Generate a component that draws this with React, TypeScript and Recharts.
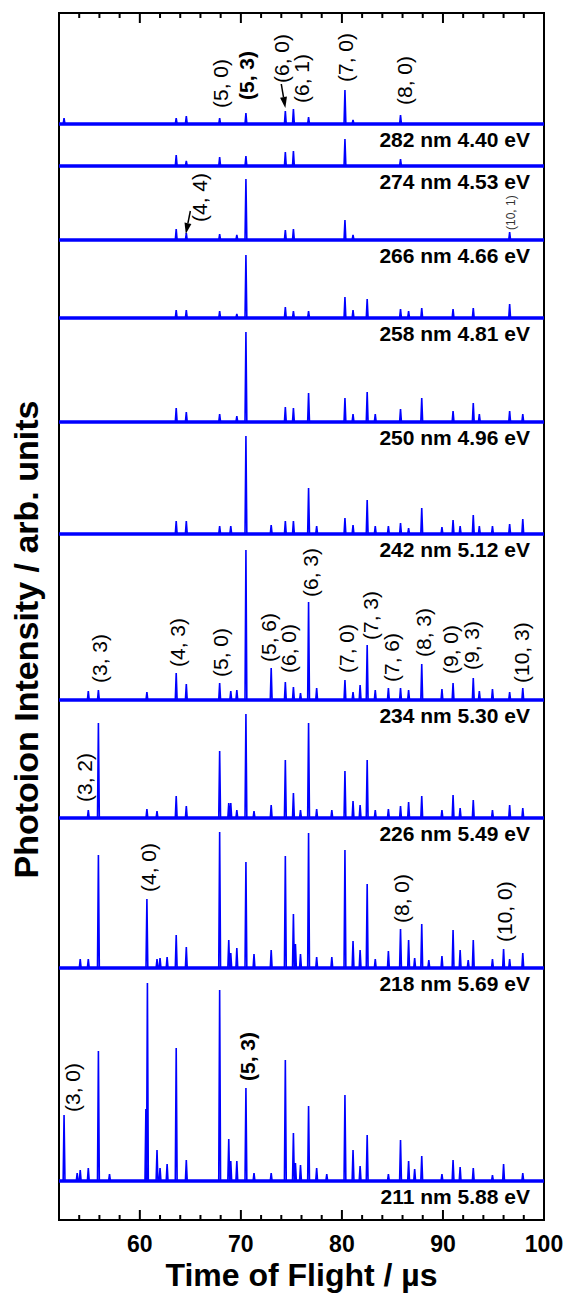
import React from 'react';
import { LineChart, Line, XAxis, YAxis, ReferenceLine, ReferenceDot, ReferenceArea } from 'recharts';

const FONT = "'Liberation Sans', Arial, Helvetica, sans-serif";
const BLUE = '#0000ff';

// panel captions, top to bottom
const wavelengths = ['282', '274', '266', '258', '250', '242', '234', '226', '218', '211'];
const energies = ['4.40', '4.53', '4.66', '4.81', '4.96', '5.12', '5.30', '5.49', '5.69', '5.88'];
// vertical offset of each trace (arb. units)
const offsets = [1096, 1054, 980, 902, 798, 686, 520, 402, 252, 39];

// [time of flight (us), peak intensity]
const spec282: [number, number][] = [
  [52.5, 6], [63.6, 6], [64.6, 8], [67.9, 6], [70.5, 11], [74.4, 13], [75.2, 15], [76.7, 7],
  [80.3, 34], [81.1, 4], [85.8, 9],
];
const spec274: [number, number][] = [
  [63.6, 11], [64.6, 5], [67.9, 9], [70.5, 10], [74.4, 14], [75.2, 15], [80.3, 27], [85.8, 7],
];
const spec266: [number, number][] = [
  [63.6, 11], [64.6, 7], [67.9, 6], [69.6, 5], [70.5, 61], [74.4, 10], [75.2, 11], [80.3, 20],
  [81.1, 5], [96.6, 8],
];
const spec258: [number, number][] = [
  [63.6, 8], [64.6, 8], [67.9, 7], [69.6, 4], [70.5, 63], [74.4, 11], [75.2, 7], [76.7, 7],
  [80.3, 21], [81.1, 8], [82.5, 19], [85.8, 9], [86.6, 7], [87.9, 10], [91.0, 9], [93.0, 10],
  [96.6, 14],
];
const spec250: [number, number][] = [
  [63.6, 14], [64.6, 10], [67.9, 8], [69.6, 6], [70.5, 90], [74.4, 15], [75.2, 14], [76.7, 29],
  [80.3, 24], [81.1, 8], [82.5, 30], [83.3, 8], [85.8, 13], [87.9, 24], [91.0, 11], [93.0, 19],
  [93.6, 8], [96.6, 11], [97.9, 8],
];
const spec242: [number, number][] = [
  [63.6, 13], [64.6, 13], [67.9, 8], [69.0, 8], [70.5, 98], [73.0, 9], [74.4, 13], [75.2, 13],
  [76.7, 46], [77.5, 8], [80.3, 16], [81.1, 9], [82.5, 34], [83.3, 8], [84.6, 8], [85.8, 11],
  [86.6, 6], [87.9, 26], [89.9, 7], [91.0, 14], [91.7, 8], [93.0, 19], [93.6, 8], [94.9, 8],
  [96.6, 10], [97.9, 15],
];
const spec234: [number, number][] = [
  [54.9, 9], [55.9, 10], [60.7, 8], [63.6, 27], [64.6, 16], [67.9, 17], [69.0, 9], [69.6, 10],
  [70.5, 150], [73.0, 32], [74.4, 18], [75.2, 13], [75.9, 7], [76.7, 98], [77.5, 12], [80.3, 20],
  [81.1, 8], [81.8, 15], [82.5, 55], [83.3, 10], [84.6, 12], [85.8, 12], [86.6, 10], [87.9, 36],
  [89.9, 11], [91.0, 17], [93.0, 22], [93.6, 9], [94.9, 11], [96.6, 8], [97.9, 12],
];
const spec226: [number, number][] = [
  [54.9, 8], [55.9, 95], [60.7, 9], [61.7, 7], [63.6, 22], [64.6, 12], [67.9, 67], [68.8, 15],
  [69.0, 15], [69.6, 8], [70.5, 104], [71.3, 7], [73.0, 13], [74.4, 58], [75.2, 25], [75.9, 8],
  [76.7, 95], [77.5, 9], [79.0, 8], [80.3, 47], [81.1, 17], [81.8, 13], [82.5, 58], [83.3, 8],
  [84.6, 9], [85.8, 12], [86.6, 16], [87.9, 22], [89.9, 8], [91.0, 23], [91.7, 10], [93.0, 18],
  [94.9, 8], [96.6, 13], [97.9, 10],
];
const spec218: [number, number][] = [
  [54.1, 9], [54.9, 9], [55.9, 113], [60.7, 69], [61.7, 9], [62.0, 10], [62.7, 11], [63.6, 33],
  [64.6, 21], [67.9, 136], [68.8, 28], [69.0, 15], [69.6, 20], [70.5, 106], [71.3, 14], [73.0, 18],
  [74.4, 112], [75.2, 54], [75.4, 24], [75.9, 14], [76.7, 135], [77.5, 11], [79.0, 11], [80.3, 118],
  [81.1, 27], [81.8, 18], [82.5, 84], [83.3, 9], [84.6, 17], [85.8, 39], [86.6, 28], [87.2, 10],
  [87.9, 44], [88.6, 8], [89.9, 12], [91.0, 38], [91.7, 18], [92.5, 8], [93.0, 28], [94.9, 9],
  [96.0, 19], [96.6, 9], [97.9, 15],
];
const spec211: [number, number][] = [
  [52.5, 66], [53.8, 8], [54.1, 11], [54.9, 13], [55.9, 130], [57.0, 7], [60.6, 72], [60.75, 198],
  [61.7, 31], [62.0, 13], [62.7, 17], [63.6, 133], [64.6, 21], [67.9, 191], [68.8, 42], [69.0, 20],
  [69.6, 20], [70.5, 93], [71.3, 8], [73.0, 8], [74.4, 121], [75.2, 48], [75.4, 18], [75.9, 16],
  [76.7, 75], [77.5, 13], [78.5, 7], [80.3, 86], [81.1, 31], [81.8, 15], [82.5, 46], [84.6, 7],
  [85.8, 41], [86.6, 20], [87.2, 12], [87.9, 25], [89.9, 7], [91.0, 21], [91.7, 14], [93.0, 13],
  [94.9, 6], [96.0, 17], [97.9, 8],
];
const spectra = [spec282, spec274, spec266, spec258, spec250, spec242, spec234, spec226, spec218, spec211];

// band assignments: text, time, height of label foot
const bandLabels: { text: string; t: number; v: number; bold?: boolean; small?: boolean }[] = [
  { text: '(5, 0)', t: 68.0, v: 1112 },
  { text: '(5, 3)', t: 70.6, v: 1120, bold: true },
  { text: '(6, 0)', t: 74.0, v: 1137 },
  { text: '(6, 1)', t: 76.0, v: 1117 },
  { text: '(7, 0)', t: 80.4, v: 1138 },
  { text: '(8, 0)', t: 86.2, v: 1115 },
  { text: '(4, 4)', t: 65.9, v: 998 },
  { text: '(10, 1)', t: 96.7, v: 990, small: true },
  { text: '(3, 3)', t: 56.0, v: 537 },
  { text: '(4, 3)', t: 63.7, v: 553 },
  { text: '(5, 0)', t: 68.0, v: 543 },
  { text: '(5, 6)', t: 72.7, v: 558 },
  { text: '(6, 0)', t: 74.7, v: 547 },
  { text: '(6, 3)', t: 76.9, v: 623 },
  { text: '(7, 0)', t: 80.5, v: 547 },
  { text: '(7, 3)', t: 82.8, v: 580 },
  { text: '(7, 6)', t: 84.9, v: 538 },
  { text: '(8, 3)', t: 88.1, v: 563 },
  { text: '(9, 0)', t: 90.8, v: 546 },
  { text: '(9, 3)', t: 92.8, v: 550 },
  { text: '(10, 3)', t: 97.8, v: 537 },
  { text: '(3, 2)', t: 54.5, v: 418 },
  { text: '(4, 0)', t: 60.9, v: 328 },
  { text: '(8, 0)', t: 85.9, v: 297 },
  { text: '(10, 0)', t: 96.1, v: 278 },
  { text: '(3, 0)', t: 53.4, v: 108 },
  { text: '(5, 3)', t: 70.7, v: 139, bold: true },
];

// arrows: from label to peak
const arrows: [number, number, number, number][] = [
  [74.0, 1136, 74.4, 1112],
  [65.0, 1009, 64.55, 986],
];

const majorTicks = [60, 70, 80, 90, 100];
const minorTicks = [54, 56, 58, 62, 64, 66, 68, 72, 74, 76, 78, 82, 84, 86, 88, 92, 94, 96, 98];

const HALF = 0.09;
function buildSeries(peaks: [number, number][], base: number) {
  const pts = [{ t: 52, v: base }];
  peaks.forEach(([t, h]) => {
    pts.push({ t: t - HALF, v: base }, { t, v: base + h }, { t: t + HALF, v: base });
  });
  pts.push({ t: 100, v: base });
  return pts;
}

const XTick = (props: any) => {
  const { x, y, payload } = props;
  return (
    <text x={x} y={y + 32} textAnchor="middle" fontFamily={FONT} fontWeight="bold" fontSize={23} fill="#000">
      {payload.value}
    </text>
  );
};

const Arrow = (props: any) => {
  const { x1, y1, x2, y2 } = props;
  const ang = Math.atan2(y2 - y1, x2 - x1);
  const len = 11;
  const w = 3.5;
  const bx = x2 - len * Math.cos(ang);
  const by = y2 - len * Math.sin(ang);
  const nx = -Math.sin(ang) * w;
  const ny = Math.cos(ang) * w;
  return (
    <g>
      <line x1={x1} y1={y1} x2={bx} y2={by} stroke="#000" strokeWidth={1.5} />
      <polygon points={`${x2},${y2} ${bx + nx},${by + ny} ${bx - nx},${by - ny}`} fill="#000" />
    </g>
  );
};

export default function App() {
  return (
    <div style={{ position: 'absolute', left: 0, top: 0, width: 566, height: 1293, background: '#fff' }}>
      <LineChart width={566} height={1293} margin={{ top: 13, right: 22, bottom: 0, left: 0 }}>
        <XAxis
          dataKey="t"
          type="number"
          domain={[52, 100]}
          allowDataOverflow
          ticks={majorTicks}
          interval={0}
          height={73}
          tickSize={0}
          tickMargin={0}
          tickLine={false}
          axisLine={{ stroke: '#000', strokeWidth: 2 }}
          tick={<XTick />}
          label={(p: any) => (
            <text
              x={p.viewBox.x + p.viewBox.width / 2}
              y={p.viewBox.y + 66}
              textAnchor="middle"
              fontFamily={FONT}
              fontWeight="bold"
              fontSize={32}
              fill="#000"
            >
              Time of Flight / µs
            </text>
          )}
        />
        <YAxis
          type="number"
          domain={[0, 1207]}
          allowDataOverflow
          width={59}
          tick={false}
          tickLine={false}
          axisLine={false}
          label={(p: any) => {
            const cx = 38;
            const cy = p.viewBox.y + p.viewBox.height / 2 + 23;
            return (
              <text
                x={cx}
                y={cy}
                transform={`rotate(-90 ${cx} ${cy})`}
                textAnchor="middle"
                fontFamily={FONT}
                fontWeight="bold"
                fontSize={34}
                fill="#000"
              >
                Photoion Intensity / arb. units
              </text>
            );
          }}
        />
        <ReferenceArea x1={52} x2={100} y1={0} y2={1207} fill="none" fillOpacity={0} stroke="#000" strokeWidth={2} />
        {majorTicks.map((t) => (
          <ReferenceLine key={'mb' + t} segment={[{ x: t, y: 0 }, { x: t, y: 10 }]} stroke="#000" strokeWidth={2} />
        ))}
        {majorTicks.map((t) => (
          <ReferenceLine key={'mt' + t} segment={[{ x: t, y: 1207 }, { x: t, y: 1197 }]} stroke="#000" strokeWidth={2} />
        ))}
        {minorTicks.map((t) => (
          <ReferenceLine key={'nb' + t} segment={[{ x: t, y: 0 }, { x: t, y: 5 }]} stroke="#000" strokeWidth={2} />
        ))}
        {minorTicks.map((t) => (
          <ReferenceLine key={'nt' + t} segment={[{ x: t, y: 1207 }, { x: t, y: 1202 }]} stroke="#000" strokeWidth={2} />
        ))}
        {offsets.map((o, i) => (
          <ReferenceLine key={'base' + i} y={o} stroke={BLUE} strokeWidth={3.5} />
        ))}
        {spectra.map((s, i) => (
          <Line
            key={'s' + i}
            data={buildSeries(s, offsets[i])}
            dataKey="v"
            type="linear"
            stroke={BLUE}
            strokeWidth={1.6}
            dot={false}
            activeDot={false}
            isAnimationActive={false}
          />
        ))}
        {offsets.map((o, i) => (
          <ReferenceDot
            key={'cap' + i}
            x={100}
            y={o}
            r={0}
            shape={(p: any) => (
              <text
                x={p.cx - 14}
                y={p.cy + 22.5}
                textAnchor="end"
                fontFamily={FONT}
                fontWeight="bold"
                fontSize={21}
                fill="#000"
              >
                {`${wavelengths[i]} nm ${energies[i]} eV`}
              </text>
            )}
          />
        ))}
        {bandLabels.map((b, i) => (
          <ReferenceDot
            key={'lab' + i}
            x={b.t}
            y={b.v}
            r={0}
            shape={(p: any) => (
              <text
                x={p.cx}
                y={p.cy}
                dy="0.35em"
                transform={`rotate(-90 ${p.cx} ${p.cy})`}
                textAnchor="start"
                fontFamily={FONT}
                fontWeight={b.bold ? 'bold' : 'normal'}
                fontSize={b.small ? 12 : 21}
                fill={b.small ? '#333' : '#000'}
              >
                {b.text}
              </text>
            )}
          />
        ))}
        {arrows.map((a, i) => (
          <ReferenceLine key={'arr' + i} segment={[{ x: a[0], y: a[1] }, { x: a[2], y: a[3] }]} shape={<Arrow />} />
        ))}
      </LineChart>
    </div>
  );
}
